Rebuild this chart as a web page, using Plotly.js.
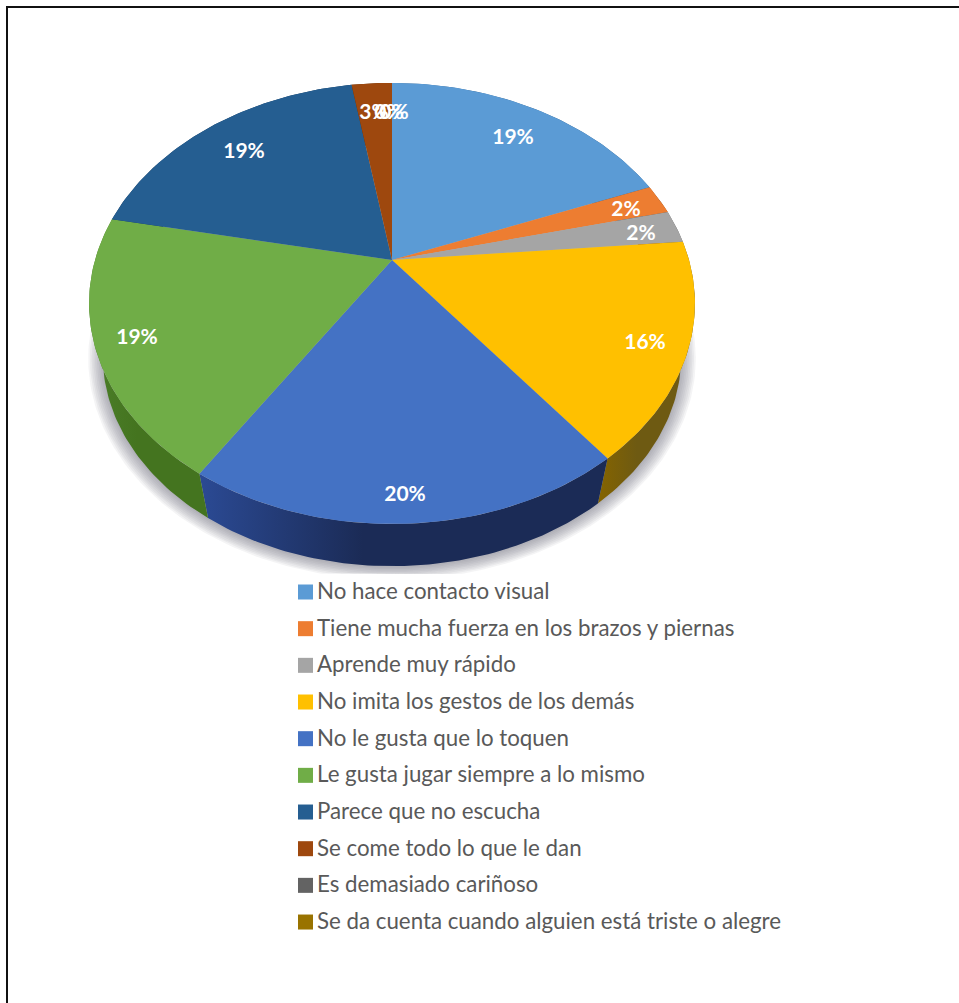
<!DOCTYPE html>
<html>
<head>
<meta charset="utf-8">
<script src="https://cdn.plot.ly/plotly-3.0.1.min.js"></script>
<style>
  html, body { margin: 0; padding: 0; background: #ffffff; overflow: hidden; }
  #chart { width: 959px; height: 1003px; }
</style>
</head>
<body>
<div id="chart"></div>
<script>
// Share of responses per observed behaviour, in percent.
const categories = [
  "No hace contacto visual",
  "Tiene mucha fuerza en los brazos y piernas",
  "Aprende muy rápido",
  "No imita los gestos de los demás",
  "No le gusta que lo toquen",
  "Le gusta jugar siempre a lo mismo",
  "Parece que no escucha",
  "Se come todo lo que le dan",
  "Es demasiado cariñoso",
  "Se da cuenta cuando alguien está triste o alegre"
];
const shares = [19.0, 2.2, 2.4, 15.9, 19.6, 19.1, 19.2, 2.6, 0, 0];
const faceColors = ["#5B9BD5", "#ED7D31", "#A5A5A5", "#FFC000", "#4472C4",
                    "#70AD47", "#255E91", "#9E480E", "#636363", "#997300"];
const wallColors = [
  ["#2E5F8C", "#2E5F8C"], ["#8A4A1C", "#8A4A1C"], ["#606060", "#606060"],
  ["#6E5A12", "#856400"], ["#1B2B56", "#2B4A94"], ["#44741F", "#4C7F2A"],
  ["#163A5C", "#163A5C"], ["#5E2C08", "#5E2C08"], ["#3A3A3A", "#3A3A3A"], ["#5A4500", "#5A4500"]
];
const labelSpots = [[513, 139], [626, 211], [641, 235], [645, 344], [405, 496],
                    [137, 339], [244, 153], [374, 114], [389, 114], [394, 114]];

// Perspective projection of the disc: the far edge is compressed, the near edge enlarged.
const apexX = 392, topApexY = 260, lowerApexY = 314;
const radiusX = 297, radiusY = 212, tilt = 0.197, lowerScale = 0.955;

function project(turn, apexY, scale) {
  const a = 2 * Math.PI * turn;
  const u = Math.sin(a), v = Math.cos(a), w = 1 + tilt * v;
  return [apexX + scale * radiusX * u / w, apexY - scale * radiusY * v / w];
}

function arc(from, to, apexY, scale) {
  const steps = Math.max(2, Math.ceil((to - from) * 360));
  const pts = [];
  for (let i = 0; i <= steps; i++) {
    pts.push(project(from + (to - from) * i / steps, apexY, scale));
  }
  return pts;
}

const total = shares.reduce((s, v) => s + v, 0);
const traces = [];

function polygon(pts, extra) {
  return Object.assign({
    x: pts.map(p => p[0]),
    y: pts.map(p => p[1]),
    type: "scatter",
    mode: "lines",
    fill: "toself",
    line: { width: 0 },
    showlegend: false,
    hoverinfo: "skip"
  }, extra);
}

// Soft drop shadow under the disc, cut off just above the key.
for (let i = 0; i < 9; i++) {
  const pts = arc(0, 1, lowerApexY + 1, lowerScale * (1.05 - i * 0.006))
    .map(p => [p[0], Math.min(p[1], 574)]);
  traces.push(polygon(pts, { fillcolor: "rgba(105,105,120,0.07)" }));
}

// Outer walls first, so that the top faces hide the far side.
let running = 0;
shares.forEach((value, i) => {
  if (value > 0) {
    const from = running / total, to = (running + value) / total;
    const pts = arc(from, to, topApexY, 1).concat(arc(from, to, lowerApexY, lowerScale).reverse());
    traces.push(polygon(pts, {
      fillgradient: {
        type: "horizontal",
        colorscale: [[0, wallColors[i][1]], [0.4, wallColors[i][0]], [1, wallColors[i][0]]]
      }
    }));
  }
  running += value;
});

// Top faces of the slices.
running = 0;
shares.forEach((value, i) => {
  if (value > 0) {
    const from = running / total, to = (running + value) / total;
    const pts = [[apexX, topApexY]].concat(arc(from, to, topApexY, 1));
    traces.push(polygon(pts, {
      name: categories[i],
      fillcolor: faceColors[i],
      hoverinfo: "name"
    }));
  }
  running += value;
});

// Percentage labels on the slices.
traces.push({
  type: "scatter",
  mode: "text",
  x: labelSpots.map(p => p[0]),
  y: labelSpots.map(p => p[1]),
  text: shares.map(v => Math.round(v) + "%"),
  textposition: "middle center",
  textfont: { family: "Lato, 'Open Sans', sans-serif", size: 21, color: "#FFFFFF", weight: 700 },
  showlegend: false,
  hoverinfo: "skip"
});

// Key below the disc: one swatch and one text row for each category.
const keyFirstRow = 592, keyRowStep = 36.67, keySwatchX = 305.5, keyTextX = 317, keyTextDrop = 1.5;
categories.forEach((name, i) => {
  const rowY = keyFirstRow + i * keyRowStep;
  traces.push({
    type: "scatter", mode: "markers", x: [keySwatchX], y: [rowY], name: name,
    marker: { symbol: "square", size: 15, color: faceColors[i], line: { width: 0 } },
    showlegend: false, hoverinfo: "name"
  });
  traces.push({
    type: "scatter", mode: "text", x: [keyTextX], y: [rowY + keyTextDrop], text: [name],
    textposition: "middle right",
    textfont: { family: "Lato, 'Open Sans', sans-serif", size: 22.3, color: "#595959" },
    showlegend: false, hoverinfo: "skip"
  });
});

const hiddenAxis = { visible: false, fixedrange: true };
const layout = {
  width: 959,
  height: 1003,
  margin: { l: 0, r: 0, t: 0, b: 0 },
  paper_bgcolor: "#ffffff",
  plot_bgcolor: "#ffffff",
  showlegend: false,
  xaxis: Object.assign({ range: [0, 959] }, hiddenAxis),
  yaxis: Object.assign({ range: [1003, 0] }, hiddenAxis),
  shapes: [
    { type: "line", xref: "x", yref: "y", x0: 7, y0: 7, x1: 959, y1: 7, line: { color: "#111111", width: 2 } },
    { type: "line", xref: "x", yref: "y", x0: 7, y0: 6, x1: 7, y1: 1003, line: { color: "#111111", width: 2 } }
  ]
};

Plotly.newPlot("chart", traces, layout, { displayModeBar: false });
</script>
</body>
</html>
